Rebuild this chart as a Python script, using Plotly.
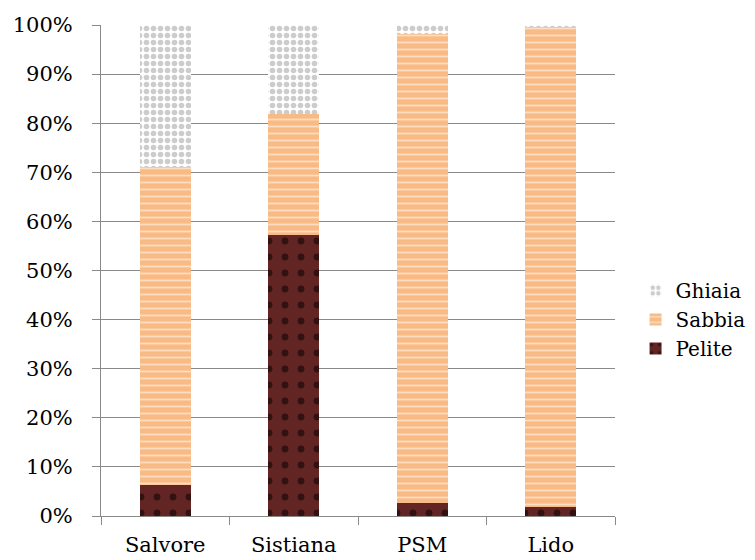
import plotly.graph_objects as go

categories = ["Salvore", "Sistiana", "PSM", "Lido"]
pelite = [6.3, 57.2, 2.6, 1.8]
sabbia = [64.8, 24.7, 95.6, 97.8]
ghiaia = [28.9, 18.1, 1.8, 0.4]
y_ticks = [0, 10, 20, 30, 40, 50, 60, 70, 80, 90, 100]
y_tick_labels = [f"{v}%" for v in y_ticks]

FONT = "DejaVu Serif"

fig = go.Figure()
fig.add_trace(go.Bar(
    x=categories, y=pelite, name="Pelite",
    marker=dict(color="#632523", line=dict(width=0),
                pattern=dict(shape=".", fgcolor="#000000", bgcolor="#632523",
                             size=16, solidity=0.14, fillmode="overlay")),
))
fig.add_trace(go.Bar(
    x=categories, y=sabbia, name="Sabbia",
    marker=dict(color="#F9BB85", line=dict(width=0),
                pattern=dict(shape="-", fgcolor="#FFFFFF", bgcolor="#F9BB85",
                             size=7, solidity=0.25, fillmode="overlay")),
))
fig.add_trace(go.Bar(
    x=categories, y=ghiaia, name="Ghiaia",
    marker=dict(color="#FFFFFF", line=dict(width=0),
                pattern=dict(shape=".", fgcolor="#9A9A9A", bgcolor="#FFFFFF",
                             size=7, solidity=0.5, fillmode="overlay")),
))

fig.update_layout(
    barmode="stack",
    bargap=0.6,
    width=747, height=552,
    margin=dict(l=93, r=140, t=17, b=44, autoexpand=False),
    paper_bgcolor="white", plot_bgcolor="white",
    font=dict(family=FONT, size=20, color="#000000"),
    legend=dict(x=1.04, y=0.40, xanchor="left", yanchor="middle",
                traceorder="reversed", itemwidth=30,
                font=dict(family=FONT, size=20)),
    xaxis=dict(showline=True, linecolor="#898989", linewidth=1,
               ticks="outside", tickson="boundaries", ticklen=8,
               tickcolor="#898989", showgrid=False, automargin=False,
               ticklabelstandoff=10,
               tickfont=dict(family=FONT, size=21)),
    yaxis=dict(range=[0, 100], tickvals=y_ticks, ticktext=y_tick_labels,
               showline=True, linecolor="#898989", linewidth=1,
               ticks="outside", ticklen=8, tickcolor="#898989",
               ticklabelstandoff=15, automargin=False,
               showgrid=True, gridcolor="#898989", gridwidth=1,
               zeroline=False, tickfont=dict(family=FONT, size=21)),
)

fig.write_html("out.html")
